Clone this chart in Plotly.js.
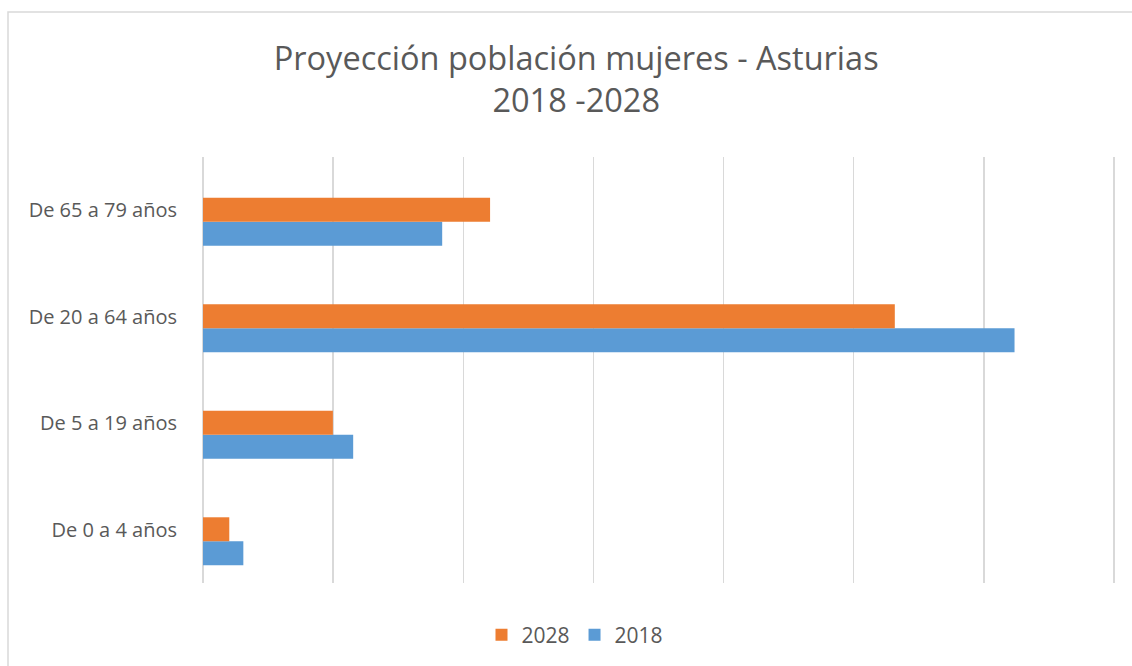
<!DOCTYPE html>
<html>
<head>
<meta charset="utf-8">
<script src="https://cdn.plot.ly/plotly-3.0.1.min.js"></script>
<style>html,body{margin:0;padding:0;background:#fff;}#chart{width:1132px;height:666px;}</style>
</head>
<body>
<div id="chart"></div>
<script>
const categories = ["De 0 a 4 años", "De 5 a 19 años", "De 20 a 64 años", "De 65 a 79 años"];
const values2018 = [15500, 57700, 311800, 91900];
const values2028 = [10100, 49900, 265800, 110300];
const seriesNames = ["2018", "2028"];

const FONT = "Open Sans, sans-serif";
const BAR_W = 0.225;
const traces = [
  {type: "bar", orientation: "h", name: seriesNames[0], y: categories, x: values2018,
   width: BAR_W, offset: -0.333, marker: {color: "#5b9bd5"}},
  {type: "bar", orientation: "h", name: seriesNames[1], y: categories, x: values2028,
   width: BAR_W, offset: -0.108, marker: {color: "#ed7d31"}}
];

const layout = {
  width: 1132, height: 666,
  paper_bgcolor: "#fff", plot_bgcolor: "#fff",
  margin: {l: 203, r: 17, t: 157, b: 83},
  font: {family: FONT, color: "#595959"},
  title: {text: "Proyección población mujeres - Asturias<br>2018 -2028",
          font: {family: FONT, size: 32.5, color: "#595959"},
          x: 0.509, xref: "container", xanchor: "center",
          y: 1 - 70/666, yref: "container", yanchor: "top"},
  barmode: "group",
  showlegend: true,
  legend: {orientation: "h", traceorder: "reversed", xref: "container", yref: "container",
           x: 575/1132, xanchor: "center", y: 31/666, yanchor: "middle",
           font: {family: FONT, size: 21, color: "#595959"}},
  xaxis: {range: [0, 350400], dtick: 50000, tick0: 0, showgrid: true, gridcolor: "#d9d9d9", gridwidth: 1.5,
          zeroline: true, zerolinecolor: "#d9d9d9", zerolinewidth: 1.5,
          showticklabels: false, showline: false, ticks: ""},
  yaxis: {type: "category", range: [-0.5, 3.5], showgrid: false, zeroline: false, showline: false,
          ticks: "outside", ticklen: 21, tickcolor: "rgba(0,0,0,0)",
          tickfont: {family: FONT, size: 20, color: "#595959"}},
  shapes: [{type: "rect", xref: "paper", yref: "paper",
            x0: (8-203)/912, x1: 2, y0: -1, y1: (583-12)/426,
            line: {color: "#d9d9d9", width: 1.5}, fillcolor: "rgba(0,0,0,0)", layer: "below"}]
};

Plotly.newPlot("chart", traces, layout, {displayModeBar: false, staticPlot: true});
</script>
</body>
</html>
